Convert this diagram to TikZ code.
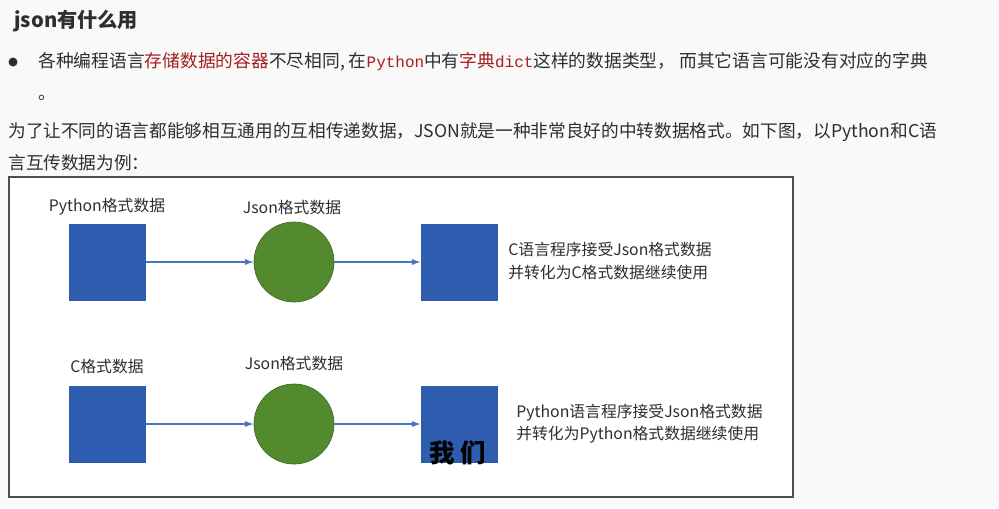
\documentclass[tikz,border=0pt]{standalone}
\usepackage{fontspec}
\setmainfont{Noto Sans CJK SC}
\setmonofont[Scale=0.9]{Liberation Mono}
\usepackage{xcolor}
\usepackage{tikz}
\usetikzlibrary{arrows.meta, positioning}
\definecolor{pagebg}{HTML}{F9F9F9}
\definecolor{textgray}{HTML}{2E2E2E}
\definecolor{hlred}{HTML}{A3201F}
\definecolor{framegray}{HTML}{4D4D4D}
\definecolor{boxblue}{HTML}{2E5DAF}
\definecolor{arrowblue}{HTML}{4A73C0}
\definecolor{ballgreen}{HTML}{548A2E}
\definecolor{balledge}{HTML}{3F6B22}
\newcommand{\redtxt}[1]{\textcolor{hlred}{#1}}

\begin{document}
\begin{tikzpicture}[x=0.02cm, y=-0.02cm, >={Latex[length=5pt, width=3.5pt]},
  heading/.style={textgray, inner sep=0pt, font=\bfseries\fontsize{11.5}{14}\selectfont},
  body/.style={textgray, inner sep=0pt, font=\fontsize{10.1}{12}\selectfont},
  databox/.style={fill=boxblue, minimum size=1.54cm, inner sep=0pt},
  jsonball/.style={circle, fill=ballgreen, draw=balledge, minimum size=1.6cm, inner sep=0pt},
  flow/.style={->, arrowblue, line width=0.6pt},
  caption/.style={textgray, inner sep=0pt, font=\fontsize{9}{12}\selectfont},
  note/.style={caption, align=left, anchor=west, font=\fontsize{9}{12.6}\selectfont}]
  % Page
  \fill[pagebg] (0,0) rectangle (999,508);
  \useasboundingbox (0,0) rectangle (999,508);
  % Heading and text
  \node[heading, anchor=west] (title) at (14,21) {json有什么用};
  \node[circle, fill=textgray, minimum size=0.18cm, inner sep=0pt] (dot) at (13,62) {};
  \node[body, anchor=west] (line1) at (38,62)
    {各种编程语言\redtxt{存储数据的容器}不尽相同, 在\redtxt{\ttfamily Python}中有\redtxt{字典\ttfamily dict}这样的数据类型， 而其它语言可能没有对应的字典};
  \node[body, anchor=west] (stop) at (38,98) {。};
  \node[body, anchor=west, font=\fontsize{10.05}{12}\selectfont] (line2) at (8,132)
    {为了让不同的语言都能够相互通用的互相传递数据，JSON就是一种非常良好的中转数据格式。如下图，以Python和C语};
  \node[body, anchor=west, font=\fontsize{10.05}{12}\selectfont] (line3) at (8,163) {言互传数据为例：};
  % Frame
  \draw[framegray, fill=white, line width=0.8pt] (9,177) rectangle (793,497);
  % Python -> Json -> C
  \node[databox] (pysrc) at (107.5,262) {};
  \node[jsonball] (jsonA) at (294,262) {};
  \node[databox] (cdst) at (459.5,262) {};
  \node[caption] (pylabel) at (107,207) {Python格式数据};
  \node[caption] (jsonlabelA) at (292,207) {Json格式数据};
  \node[note] (cnote) at (508,261) {C语言程序接受Json格式数据\\并转化为C格式数据继续使用};
  \draw[flow] (pysrc) -- (jsonA);
  \draw[flow] (jsonA) -- (cdst);
  % C -> Json -> Python
  \node[databox] (csrc) at (107.5,424) {};
  \node[jsonball] (jsonB) at (294,424) {};
  \node[databox] (pydst) at (459.5,424) {};
  \node[caption] (clabel) at (107,366) {C格式数据};
  \node[caption] (jsonlabelB) at (294,363) {Json格式数据};
  \node[note] (pynote) at (516,424) {Python语言程序接受Json格式数据\\并转化为Python格式数据继续使用};
  \draw[flow] (csrc) -- (jsonB);
  \draw[flow] (jsonB) -- (pydst);
  % Subtitle overlay
  \node[inner sep=0pt, font=\bfseries\fontsize{14.5}{16}\selectfont] (sub) at (458,453)
    {我\hspace{3pt}们};
\end{tikzpicture}
\end{document}
